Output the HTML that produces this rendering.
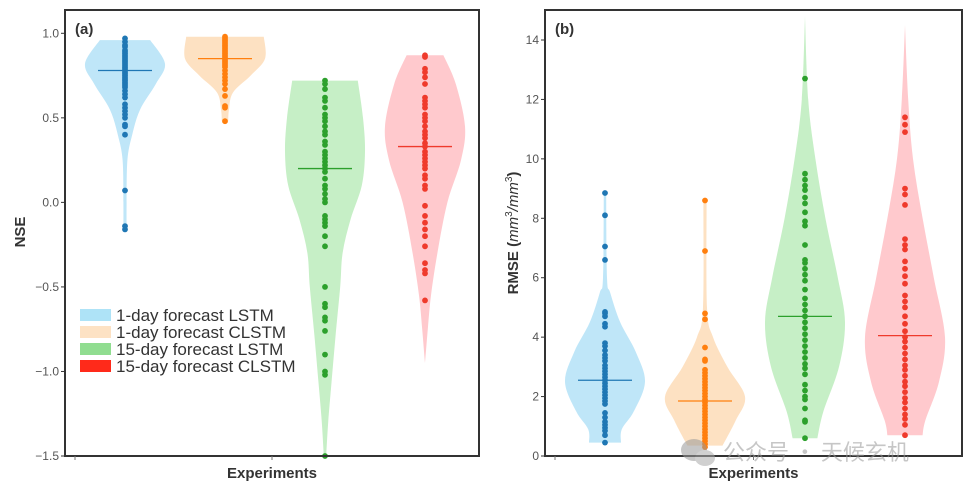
<!DOCTYPE html>
<html><head><meta charset="utf-8">
<style>
html,body{margin:0;padding:0;background:#fff;}
svg{display:block;font-family:"Liberation Sans","DejaVu Sans","Noto Sans CJK SC",sans-serif;}
</style></head>
<body>
<svg id="chart" width="967" height="490" viewBox="0 0 967 490"></svg>
<script>
// ---- data ----
const seriesNames = ["1-day forecast LSTM","1-day forecast CLSTM","15-day forecast LSTM","15-day forecast CLSTM"];
const nseTicks = [1.0,0.5,0.0,-0.5,-1.0,-1.5];
const nseTickLabels = ["1.0","0.5","0.0","\u22120.5","\u22121.0","\u22121.5"];
const rmseTicks = [0,2,4,6,8,10,12,14];
const rmseTickLabels = ["0","2","4","6","8","10","12","14"];

const nseLstm1 = [0.97,0.95,0.93,0.92,0.9,0.89,0.88,0.87,0.86,0.85,0.84,0.83,0.82,0.81,0.8,0.79,0.78,0.77,0.76,0.75,0.74,0.73,0.72,0.71,0.7,0.69,0.68,0.66,0.64,0.62,0.58,0.56,0.54,0.52,0.5,0.46,0.45,0.4,0.07,-0.14,-0.16];
const nseClstm1 = [0.98,0.97,0.96,0.95,0.94,0.93,0.92,0.91,0.9,0.89,0.88,0.87,0.86,0.85,0.84,0.83,0.82,0.81,0.8,0.78,0.76,0.74,0.72,0.7,0.67,0.63,0.57,0.56,0.48];
const nseLstm15 = [0.72,0.7,0.67,0.62,0.6,0.56,0.52,0.5,0.48,0.45,0.42,0.4,0.36,0.34,0.3,0.28,0.26,0.24,0.22,0.2,0.18,0.14,0.1,0.08,0.05,0.02,0.0,-0.08,-0.1,-0.12,-0.14,-0.2,-0.26,-0.5,-0.6,-0.62,-0.68,-0.7,-0.76,-0.9,-1.0,-1.02,-1.5];
const nseClstm15 = [0.87,0.86,0.79,0.77,0.74,0.7,0.62,0.6,0.58,0.56,0.52,0.5,0.48,0.45,0.42,0.4,0.38,0.35,0.33,0.3,0.28,0.26,0.24,0.22,0.2,0.16,0.14,0.1,0.08,-0.02,-0.08,-0.12,-0.16,-0.2,-0.26,-0.36,-0.4,-0.42,-0.58];
const nseMedians = [0.78,0.85,0.2,0.33];

const rmseLstm1 = [8.85,8.1,7.05,6.6,4.85,4.8,4.7,4.45,4.35,3.8,3.7,3.55,3.4,3.3,3.2,3.05,2.95,2.85,2.75,2.65,2.55,2.45,2.35,2.25,2.15,2.05,1.95,1.85,1.75,1.45,1.3,1.15,1.05,0.95,0.85,0.7,0.45];
const rmseClstm1 = [8.6,6.9,4.8,4.6,3.65,3.25,3.2,2.9,2.8,2.7,2.6,2.5,2.4,2.3,2.2,2.1,2.0,1.9,1.8,1.7,1.6,1.5,1.4,1.3,1.2,1.1,1.0,0.9,0.8,0.7,0.6,0.5,0.4,0.3];
const rmseLstm15 = [12.7,9.5,9.3,9.1,8.95,8.7,8.5,8.2,7.9,7.75,7.1,6.6,6.5,6.3,6.1,5.9,5.6,5.3,5.1,4.9,4.7,4.5,4.3,4.1,3.9,3.7,3.5,3.3,3.1,2.95,2.75,2.4,2.2,2.0,1.9,1.6,1.2,1.15,0.6];
const rmseClstm15 = [11.4,11.15,10.9,9.0,8.8,8.45,7.3,7.1,6.95,6.55,6.3,6.05,5.8,5.4,5.2,5.0,4.7,4.45,4.2,4.0,3.85,3.65,3.45,3.25,3.05,2.9,2.7,2.5,2.35,2.15,1.95,1.8,1.6,1.4,1.25,1.05,0.7];
const rmseMedians = [2.55,1.85,4.7,4.05];

// density profiles: [value, relative density 0..1]
const nseDens1 = [[0.96,0.63],[0.82,1.0],[0.7,0.77],[0.55,0.38],[0.4,0.18],[0.25,0.06],[0.0,0.04],[-0.16,0.04]];
const nseDens2 = [[0.98,0.97],[0.85,1.0],[0.75,0.64],[0.65,0.2],[0.55,0.1],[0.48,0.08]];
const nseDens3 = [[0.72,0.82],[0.5,0.95],[0.3,1.0],[0.1,0.92],[-0.1,0.64],[-0.3,0.44],[-0.5,0.38],[-0.8,0.26],[-1.1,0.15],[-1.3,0.08],[-1.5,0.03]];
const nseDens4 = [[0.87,0.46],[0.7,0.77],[0.45,1.0],[0.25,0.9],[0.0,0.56],[-0.3,0.31],[-0.55,0.15],[-0.75,0.07],[-0.95,0.0]];
const rmseDens1 = [[8.9,0.03],[6.0,0.05],[5.5,0.13],[4.5,0.38],[3.5,0.77],[2.5,1.0],[1.5,0.72],[0.9,0.42],[0.45,0.4]];
const rmseDens2 = [[8.6,0.04],[5.0,0.05],[4.0,0.2],[3.0,0.56],[2.0,1.0],[1.2,0.77],[0.35,0.44]];
const rmseDens3 = [[14.8,0.0],[12.0,0.08],[10.0,0.26],[8.0,0.51],[6.0,0.82],[4.5,1.0],[3.0,0.85],[1.5,0.46],[0.6,0.31]];
const rmseDens4 = [[14.5,0.0],[12.0,0.08],[10.0,0.2],[8.0,0.44],[6.0,0.72],[4.0,1.0],[2.5,0.85],[1.2,0.51],[0.7,0.44]];

// ---- styling ----
const fills = ["#bfe6f8","#fde1c2","#c6efc6","#ffc9cd"];
const dots = ["#1f77b4","#ff7f0e","#2ca02c","#ef3a2c"];
const legendSw = ["#aee3f7","#fde2c4","#90dd90","#ff2a1a"];
const NS = "http://www.w3.org/2000/svg";
const svg = document.getElementById('chart');
function mk(tag, attrs, parent){const e=document.createElementNS(NS,tag);for(const k in attrs)e.setAttribute(k,attrs[k]);(parent||svg).appendChild(e);return e;}

function smooth(pts){
  // catmull-rom to bezier, open curve
  let d = 'M'+pts[0][0].toFixed(1)+','+pts[0][1].toFixed(1);
  for(let i=0;i<pts.length-1;i++){
    const p0=pts[Math.max(0,i-1)],p1=pts[i],p2=pts[i+1],p3=pts[Math.min(pts.length-1,i+2)];
    const c1=[p1[0]+(p2[0]-p0[0])/6,p1[1]+(p2[1]-p0[1])/6];
    const c2=[p2[0]-(p3[0]-p1[0])/6,p2[1]-(p3[1]-p1[1])/6];
    d+='C'+c1.map(v=>v.toFixed(1)).join(',')+' '+c2.map(v=>v.toFixed(1)).join(',')+' '+p2.map(v=>v.toFixed(1)).join(',');
  }
  return d;
}

function panel(opt){
  const g = mk('g',{});
  
  
  const y = v => opt.y0 + (v - opt.vmin)/(opt.vmax - opt.vmin)*(opt.y1 - opt.y0);
  const cx = i => opt.left + 60 + 100*i;
  const maxHalf = 40;
  opt.dens.forEach((d,i)=>{
    const right = d.map(p=>[cx(i)+p[1]*maxHalf, y(p[0])]);
    const left = d.map(p=>[cx(i)-p[1]*maxHalf, y(p[0])]).reverse();
    let path = smooth(right);
    path += 'L'+smooth(left).slice(1)+'Z';
    const p = mk('path',{d:path,fill:fills[i],stroke:'none'},g);
    
    
  });
  opt.pts.forEach((arr,i)=>{
    arr.forEach(v=>{
      const c = mk('circle',{cx:cx(i),cy:y(v).toFixed(1),r:2.9,fill:dots[i]},g);
      
      
    });
    const m = mk('line',{x1:cx(i)-27,x2:cx(i)+27,y1:y(opt.med[i]),y2:y(opt.med[i]),stroke:dots[i],'stroke-width':1.3},g);
    
    
  });
  const f = mk('rect',{x:opt.left,y:opt.top,width:opt.right-opt.left,height:opt.bottom-opt.top,fill:'none',stroke:'#333','stroke-width':2},g);
  
  
  opt.ticks.forEach((t,k)=>{
    mk('line',{x1:opt.left-4,x2:opt.left,y1:y(t),y2:y(t),stroke:'#333','stroke-width':1},g);
    const tx = mk('text',{x:opt.left-6,y:y(t)+4,'text-anchor':'end','font-size':12,fill:'#555'},g);
    tx.textContent = opt.labels[k];
    
    
  });
  [opt.left+10, (opt.left+opt.right)/2].forEach(xx=>mk('line',{x1:xx,x2:xx,y1:opt.bottom,y2:opt.bottom+4,stroke:'#777','stroke-width':1},g));
  const xl = mk('text',{x:(opt.left+opt.right)/2,y:478,'text-anchor':'middle','font-size':15,'font-weight':'bold',fill:'#333'},g);
  xl.textContent='Experiments';
  
  
  const pl = mk('text',{x:opt.left+10,y:34,'font-size':15,'font-weight':'bold',fill:'#333'},g);
  pl.textContent=opt.tag;
  
  
  return g;
}

panel({name:'nse-panel',left:65,right:479,top:10,bottom:456,y0:33.3,y1:456,vmin:1.0,vmax:-1.5,
  dens:[nseDens1,nseDens2,nseDens3,nseDens4],pts:[nseLstm1,nseClstm1,nseLstm15,nseClstm15],med:nseMedians,
  ticks:nseTicks,labels:nseTickLabels,tag:'(a)'});
panel({name:'rmse-panel',left:545,right:962,top:10,bottom:456,y0:456,y1:40,vmin:0,vmax:14,
  dens:[rmseDens1,rmseDens2,rmseDens3,rmseDens4],pts:[rmseLstm1,rmseClstm1,rmseLstm15,rmseClstm15],med:rmseMedians,
  ticks:rmseTicks,labels:rmseTickLabels,tag:'(b)'});

const yt1 = mk('text',{x:25,y:232,'text-anchor':'middle','font-size':15,'font-weight':'bold',fill:'#333',transform:'rotate(-90 25 232)'});
yt1.textContent='NSE';


const yt2 = mk('text',{x:518,y:233,'text-anchor':'middle','font-size':15,'font-weight':'bold',fill:'#333',transform:'rotate(-90 518 233)'});
yt2.innerHTML='RMSE (<tspan font-style="italic" font-weight="normal">mm</tspan><tspan font-size="10" dy="-6" font-weight="normal">3</tspan><tspan dy="6" font-style="italic" font-weight="normal">/mm</tspan><tspan font-size="10" dy="-6" font-weight="normal">3</tspan><tspan dy="6">)</tspan>';



const lg = mk('g',{});


seriesNames.forEach((n,i)=>{
  const yy = 315 + i*17;
  const s = mk('rect',{x:80,y:yy-6,width:31,height:12,fill:legendSw[i]},lg);
  
  
  const t = mk('text',{x:116,y:yy+6,'font-size':17,fill:'#333'},lg);
  t.textContent=n;
  
  
});

const wm = mk('g',{opacity:0.55});


mk('ellipse',{cx:694,cy:450,rx:13,ry:11,fill:'#999'},wm);
mk('ellipse',{cx:705,cy:458,rx:10,ry:8,fill:'#aaa'},wm);
const wt = mk('text',{x:723,y:460,'font-size':22,fill:'#999','font-family':'"Noto Sans CJK SC",sans-serif'},wm);
wt.textContent='公众号 · 天候玄机';
</script>
</body></html>
